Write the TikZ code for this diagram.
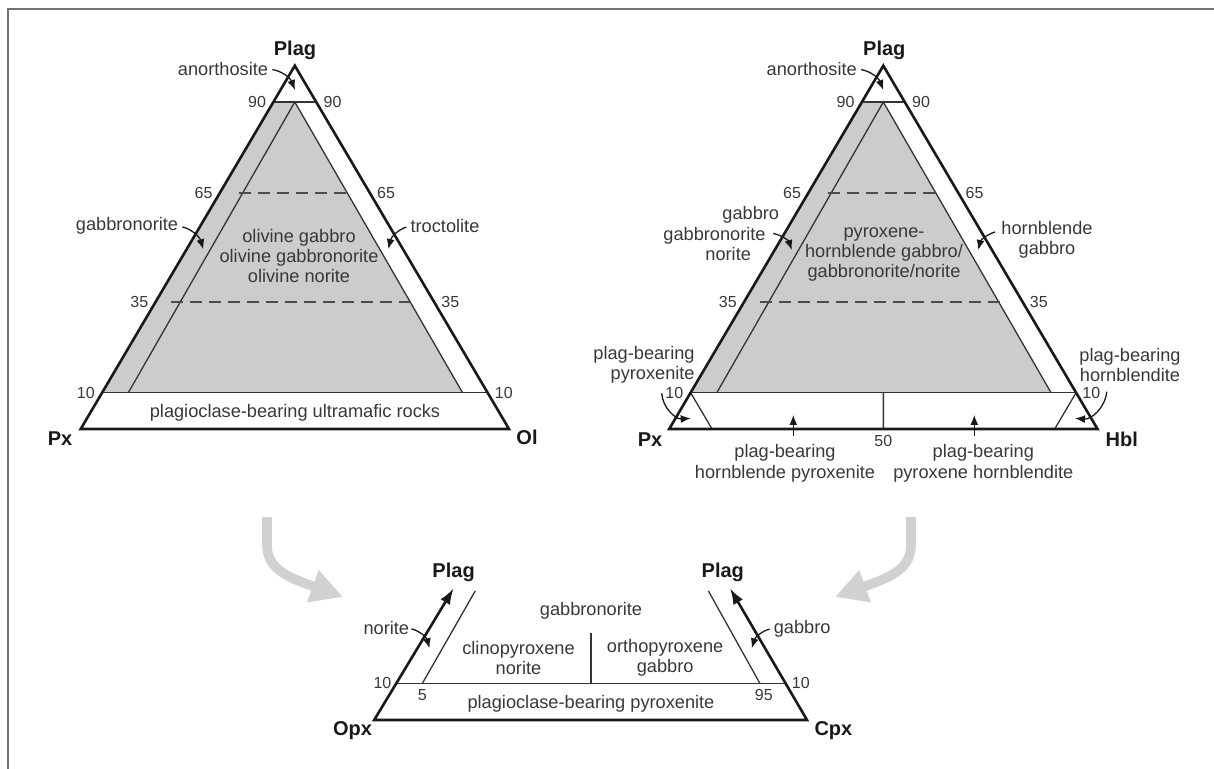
\documentclass[tikz,border=0pt]{standalone}
\usepackage{fontspec}
\setmainfont{Liberation Sans}
\usetikzlibrary{calc}
\usetikzlibrary{arrows.meta}
\definecolor{fillgrey}{gray}{0.80}
\definecolor{arrowgrey}{gray}{0.82}
\definecolor{inkgrey}{gray}{0.22}
\tikzset{%
  myframe/.style={draw=black!55, line width=1pt},
  myside/.style={draw=black!90, line width=1.3pt, line join=miter},
  myline/.style={draw=black!80, line width=0.65pt},
  mydash/.style={draw=black!70, line width=0.7pt, dash pattern=on 6pt off 3.5pt},
  myedge/.style={->, >={Latex[length=5pt,width=4pt]}, line width=0.65pt, black!90},
  myhead/.style={{Latex[length=8pt,width=5.5pt]}-{Latex[length=8pt,width=5.5pt]}},
  mygreyarrow/.style={-{Triangle[length=16pt,width=16pt]}, line width=4.8pt, arrowgrey},
  mylabel/.style={text=inkgrey, font=\fontsize{9.1}{10.2}\selectfont, align=center, inner sep=0pt},
  myvertex/.style={text=black!90, font=\fontsize{10}{12}\selectfont\bfseries, inner sep=0pt},
  mynum/.style={text=inkgrey, font=\fontsize{8}{9}\selectfont, inner sep=1pt}
}

\begin{document}
\begin{tikzpicture}[x=0.5pt, y=-0.5pt]
  \useasboundingbox (0,0) rectangle (1214,769);
  \draw[myframe] (8,769) -- (8,9.5) -- (1214,9.5);

  % Plag - Px - Ol
  \coordinate (LA) at (294.8,65.7);
  \coordinate (LPx) at (80.7,429);
  \coordinate (LOl) at (509,429);
  \coordinate (L90a) at ($(LA)!0.1!(LPx)$);
  \coordinate (L90b) at ($(LA)!0.1!(LOl)$);
  \coordinate (L65a) at ($(LA)!0.35!(LPx)$);
  \coordinate (L65b) at ($(LA)!0.35!(LOl)$);
  \coordinate (L35a) at ($(LA)!0.65!(LPx)$);
  \coordinate (L35b) at ($(LA)!0.65!(LOl)$);
  \coordinate (L10a) at ($(LA)!0.9!(LPx)$);
  \coordinate (L10b) at ($(LA)!0.9!(LOl)$);
  \coordinate (LI) at ($(L90a)!0.5!(L90b)$);
  \coordinate (LIl) at ($(L10a)!0.068!(L10b)$);
  \coordinate (LIr) at ($(L10a)!0.935!(L10b)$);
  \fill[fillgrey] (L90a) -- (LI) -- (LIr) -- (L10a) -- cycle;
  \draw[myline] (LIl) -- (LI) -- (LIr);
  \draw[myline] (L90a) -- (L90b);
  \draw[myline] (L10a) -- (L10b);
  \draw[mydash] (239,192.9) -- (353,192.9);
  \draw[mydash] (171,301.9) -- (417,301.9);
  \draw[myside] (LA) -- (LPx) -- (LOl) -- cycle;
  \node[myvertex] (LPlag) at (295,50) {Plag};
  \node[myvertex] (LPxl) at (60,438.5) {Px};
  \node[myvertex] (LOll) at (527,437) {Ol};
  \node[mynum, left=2.5pt] (Ln90a) at (L90a) {90};
  \node[mynum, right=2.5pt] (Ln90b) at (L90b) {90};
  \node[mynum, left=2.5pt] (Ln65a) at (L65a) {65};
  \node[mynum, right=2.5pt] (Ln65b) at (L65b) {65};
  \node[mynum, left=2.5pt] (Ln35a) at (L35a) {35};
  \node[mynum, right=2.5pt] (Ln35b) at (L35b) {35};
  \node[mynum, left=2.5pt] (Ln10a) at (L10a) {10};
  \node[mynum, right=2.5pt] (Ln10b) at (L10b) {10};
  \node[mylabel] (Lanor) at (223,69) {anorthosite};
  \coordinate (LanorT) at (295,90);
  \draw[myedge, shorten <=2pt] (Lanor.east) to[bend left=30] (LanorT);
  \node[mylabel] (Lgbn) at (127,226) {gabbronorite};
  \coordinate (LgbnT) at (203.3,249.3);
  \draw[myedge, shorten <=2pt] (Lgbn.east) to[bend left=30] (LgbnT);
  \node[mylabel] (Ltroc) at (445,226) {troctolite};
  \coordinate (LtrocT) at (388.3,249);
  \draw[myedge, shorten <=2pt] (Ltroc.west) to[bend right=30] (LtrocT);
  \node[mylabel] (Lcore) at (299,256) {olivine gabbro\\olivine gabbronorite\\olivine norite};
  \node[mylabel] (Lultra) at (295,412.3) {plagioclase-bearing ultramafic rocks};

  % Plag - Px - Hbl
  \coordinate (RA) at (883.3,65.7);
  \coordinate (RPx) at (669.2,429);
  \coordinate (RHbl) at (1097.5,429);
  \coordinate (R90a) at ($(RA)!0.1!(RPx)$);
  \coordinate (R90b) at ($(RA)!0.1!(RHbl)$);
  \coordinate (R65a) at ($(RA)!0.35!(RPx)$);
  \coordinate (R65b) at ($(RA)!0.35!(RHbl)$);
  \coordinate (R35a) at ($(RA)!0.65!(RPx)$);
  \coordinate (R35b) at ($(RA)!0.65!(RHbl)$);
  \coordinate (R10a) at ($(RA)!0.9!(RPx)$);
  \coordinate (R10b) at ($(RA)!0.9!(RHbl)$);
  \coordinate (R10m) at ($(R10a)!0.5!(R10b)$);
  \coordinate (RI) at ($(R90a)!0.5!(R90b)$);
  \coordinate (RIl) at ($(R10a)!0.068!(R10b)$);
  \coordinate (RIr) at ($(R10a)!0.935!(R10b)$);
  \coordinate (RB1) at ($(RPx)!0.1!(RHbl)$);
  \coordinate (RB2) at ($(RHbl)!0.1!(RPx)$);
  \coordinate (RBm) at ($(RPx)!0.5!(RHbl)$);
  \fill[fillgrey] (R90a) -- (RI) -- (RIr) -- (R10a) -- cycle;
  \draw[myline] (RIl) -- (RI) -- (RIr);
  \draw[myline] (R90a) -- (R90b);
  \draw[myline] (R10a) -- (R10b);
  \draw[myline] (R10a) -- (RB1);
  \draw[myline] (R10b) -- (RB2);
  \draw[myline] (R10m) -- (RBm);
  \draw[mydash] (827.5,192.9) -- (941.5,192.9);
  \draw[mydash] (759.5,301.9) -- (1005.5,301.9);
  \draw[myside] (RA) -- (RPx) -- (RHbl) -- cycle;
  \node[myvertex] (RPlag) at (884.3,50) {Plag};
  \node[myvertex] (RPxl) at (650,440) {Px};
  \node[myvertex] (RHbll) at (1121.7,439.3) {Hbl};
  \node[mynum, left=2.5pt] (Rn90a) at (R90a) {90};
  \node[mynum, right=2.5pt] (Rn90b) at (R90b) {90};
  \node[mynum, left=2.5pt] (Rn65a) at (R65a) {65};
  \node[mynum, right=2.5pt] (Rn65b) at (R65b) {65};
  \node[mynum, left=2.5pt] (Rn35a) at (R35a) {35};
  \node[mynum, right=2.5pt] (Rn35b) at (R35b) {35};
  \node[mynum, left=2.5pt] (Rn10a) at (R10a) {10};
  \node[mynum, right=2pt] (Rn10b) at (R10b) {10};
  \node[mynum, below=2pt] (Rn50) at (RBm) {50};
  \node[mylabel] (Ranor) at (811.7,69) {anorthosite};
  \coordinate (RanorT) at (883.3,90);
  \draw[myedge, shorten <=2pt] (Ranor.east) to[bend left=30] (RanorT);
  \node[mylabel, align=left, anchor=west] (Rgbn) at (663,233.5) {\hspace*{29.5pt}gabbro\\gabbronorite\\\hspace*{21pt}norite};
  \coordinate (RgbnT) at (791.7,250);
  \draw[myedge] (773.3,233.5) to[bend left=30] (RgbnT);
  \node[mylabel] (Rhbg) at (1047,239.5) {hornblende\\gabbro};
  \coordinate (RhbgT) at (978.3,250);
  \draw[myedge] (995,232) to[bend right=30] (RhbgT);
  \node[mylabel] (Rcore) at (884,254.5) {pyroxene-\\hornblende gabbro/\\gabbronorite/norite};
  \node[mylabel, align=right, anchor=east] (Rpbp) at (695,365) {plag-bearing\\pyroxenite};
  \coordinate (RpbpT) at (690.7,418.3);
  \draw[myedge] (661.7,393.3) to[bend right=45] (RpbpT);
  \node[mylabel] (Rpbh) at (1130,365) {plag-bearing\\hornblendite};
  \coordinate (RpbhT) at (1075,418.3);
  \draw[myedge] (1106.7,391.7) to[bend left=45] (RpbhT);
  \node[mylabel] (Rhpx) at (785,463.3) {plag-bearing\\hornblende pyroxenite};
  \coordinate (RhpxT) at (793.3,415);
  \draw[myedge, shorten <=4pt] (Rhpx.north -| RhpxT) -- (RhpxT);
  \node[mylabel] (Rphb) at (983.3,463.3) {plag-bearing\\pyroxene hornblendite};
  \coordinate (RphbT) at (974.3,415);
  \draw[myedge, shorten <=4pt] (Rphb.north -| RphbT) -- (RphbT);

  % grey arrows
  \draw[mygreyarrow] (267,517) -- (267,545) .. controls (267,570) and (290,578) .. (343,597);
  \draw[mygreyarrow] (911,517) -- (911,545) .. controls (911,570) and (888,578) .. (835,597);

  % Plag - Opx - Cpx
  \coordinate (BO) at (374.2,720);
  \coordinate (BC) at (807,720);
  \coordinate (BTl) at (453.6,588.3);
  \coordinate (BTr) at (730,588.3);
  \coordinate (B10a) at ($(BO)!0.279!(BTl)$);
  \coordinate (B10b) at ($(BC)!0.279!(BTr)$);
  \coordinate (B10m) at ($(B10a)!0.5!(B10b)$);
  \coordinate (BIl) at ($(B10a)!0.067!(B10b)$);
  \coordinate (BIr) at ($(B10a)!0.934!(B10b)$);
  \draw[myline] (B10a) -- (B10b);
  \draw[myline] (BIl) -- (475.2,591);
  \draw[myline] (BIr) -- (708.4,591);
  \draw[myline] (B10m) -- ++(0,-50);
  \draw[myside, myhead] (BTl) -- (BO) -- (BC) -- (BTr);
  \node[myvertex] (BPlagl) at (453.6,572.3) {Plag};
  \node[myvertex] (BPlagr) at (722.8,572.3) {Plag};
  \node[myvertex] (BOpx) at (352.6,730.7) {Opx};
  \node[myvertex] (BCpx) at (833.4,730.7) {Cpx};
  \node[mynum, left=1.3pt] (Bn10a) at (B10a) {10};
  \node[mynum, right=2pt] (Bn10b) at (B10b) {10};
  \node[mynum, below=2pt] (Bn5) at (BIl) {5};
  \node[mynum, below=2pt, xshift=2pt] (Bn95) at (BIr) {95};
  \node[mylabel] (Bgbn) at (591,610.7) {gabbronorite};
  \node[mylabel] (Bcpn) at (518.5,657.7) {clinopyroxene\\norite};
  \node[mylabel] (Bopg) at (665.1,657.7) {orthopyroxene\\gabbro};
  \node[mylabel] (Bnor) at (386.3,628.3) {norite};
  \coordinate (BnorT) at (429.5,648.3);
  \draw[myedge, shorten <=1pt] (Bnor.east) to[bend left=30] (BnorT);
  \node[mylabel] (Bgab) at (802.2,628.3) {gabbro};
  \coordinate (BgabT) at (751.7,648.3);
  \draw[myedge, shorten <=2pt] (Bgab.west) to[bend right=30] (BgabT);
  \node[mylabel] (Bpbp) at (591,703.3) {plagioclase-bearing pyroxenite};
\end{tikzpicture}
\end{document}
